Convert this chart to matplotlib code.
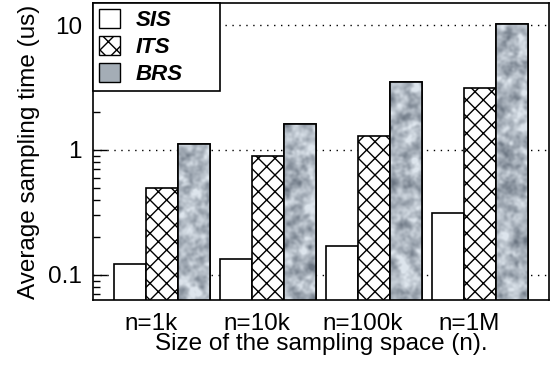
import numpy as np
import matplotlib
matplotlib.use("Agg")
import matplotlib.pyplot as plt
import matplotlib.transforms as mtransforms
from matplotlib.patches import Patch

groups = ["n=1k", "n=10k", "n=100k", "n=1M"]
series = ["SIS", "ITS", "BRS"]
sis = [0.122, 0.134, 0.171, 0.312]
its = [0.50, 0.90, 1.29, 3.15]
brs = [1.11, 1.60, 3.52, 10.1]

plt.rcParams['font.family'] = ['Liberation Sans', 'DejaVu Sans']
plt.rcParams['hatch.linewidth'] = 1.0


def marble(h=300, w=460, seed=3):
    # grauer Marmor-Look fuer BRS (nur Optik)
    rng = np.random.default_rng(seed)
    fy = np.fft.fftfreq(h)[:, None]
    fx = np.fft.fftfreq(w)[None, :]
    tex = np.zeros((h, w))
    for sig, amp in [(0.05, 1.0), (0.12, 0.5)]:
        noise = rng.standard_normal((h, w))
        filt = np.exp(-(fx**2 + fy**2) / (2 * sig**2))
        t = np.real(np.fft.ifft2(np.fft.fft2(noise) * filt))
        tex += amp * (t - t.mean()) / t.std()
    tex = tex / tex.std()
    tex = np.clip(0.58 + 0.2 * tex, 0, 1)
    lo = np.array([0.42, 0.46, 0.51])
    hi = np.array([0.87, 0.90, 0.93])
    return lo + (hi - lo) * tex[..., None]


fig = plt.figure(figsize=(5.55, 3.66), dpi=100)
ax = fig.add_axes([93 / 555, 66 / 366, 456 / 555, 297 / 366])
ax.set_yscale('log')

x = np.arange(len(groups))
w = 0.3
ax.bar(x - w, sis, w, color='white', edgecolor='black', linewidth=1.2, zorder=2)
ax.bar(x, its, w, color='white', edgecolor='black', hatch='xx', linewidth=1.2, zorder=2)
brs_bars = ax.bar(x + w, brs, w, color='#a4adb6', edgecolor='black', linewidth=1.2, zorder=2)

tex = marble()
for b in brs_bars:
    im = ax.imshow(tex, extent=[0, 1, 0, 1], transform=ax.transAxes,
                   aspect='auto', zorder=2.5, interpolation='bilinear')
    im.set_clip_path(b)
    ax.bar(b.get_x() + w / 2, b.get_height(), w, fill=False, edgecolor='black', linewidth=1.2, zorder=3)
ax.set_xlim(-0.65, 3.65)
ax.set_ylim(0.063, 15)

ax.set_yticks([0.1, 1, 10])
ax.set_yticklabels(['0.1', '1', '10'])
ax.tick_params(axis='y', which='major', direction='in', length=10, width=1, labelsize=17.5, pad=8)
ax.tick_params(axis='y', which='minor', direction='in', length=5, width=1)
ax.set_xticks(x)
ax.set_xticklabels(groups)
ax.tick_params(axis='x', length=0, labelsize=17.5, pad=9)
shift = mtransforms.ScaledTranslation(-11 / 100, 0, fig.dpi_scale_trans)
for lab in ax.get_xticklabels():
    lab.set_transform(lab.get_transform() + shift)
ax.yaxis.grid(True, which='major', linestyle=(0, (1, 4)), color='black', linewidth=1, zorder=0)
ax.set_axisbelow(True)
for s in ax.spines.values():
    s.set_linewidth(1.2)

ax.set_ylabel('Average sampling time (us)', fontsize=17.5, labelpad=6)
ax.set_xlabel('Size of the sampling space (n).', fontsize=17.5, labelpad=-1)

handles = [Patch(facecolor='white', edgecolor='black', label='SIS'),
           Patch(facecolor='white', edgecolor='black', hatch='xx', label='ITS'),
           Patch(facecolor='#a4adb6', edgecolor='black', label='BRS')]
leg = ax.legend(handles=handles, loc='upper left', bbox_to_anchor=(0, 0, 0.278, 1),
                mode='expand', borderaxespad=0, fancybox=False,
                framealpha=1, edgecolor='black', handlelength=0.95, handleheight=0.95,
                handletextpad=0.7, labelspacing=0.2, borderpad=0.28,
                prop={'weight': 'bold', 'style': 'italic', 'size': 16})
leg.get_frame().set_linewidth(1.2)

fig.savefig('out.png', dpi=100)
